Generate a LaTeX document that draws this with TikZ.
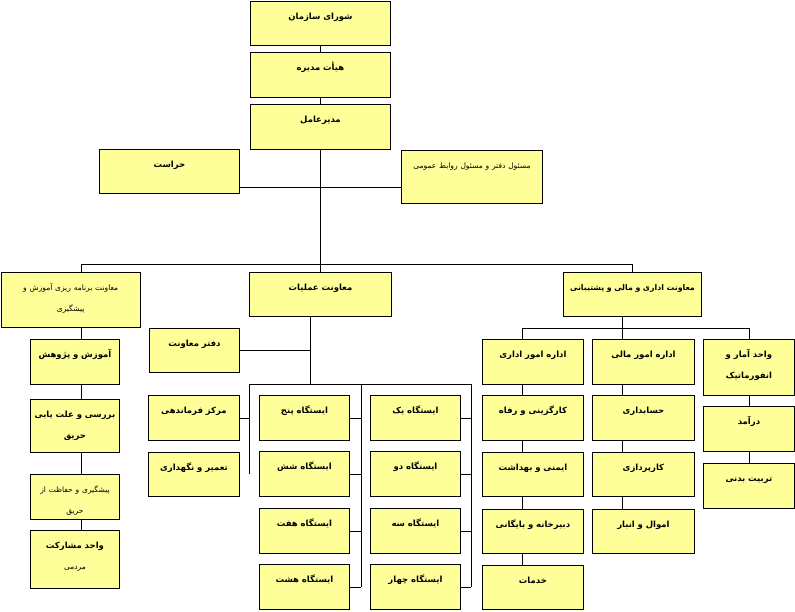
\documentclass[tikz,border=0pt]{standalone}
\usepackage{fontspec}
\usepackage{tikz}
\usetikzlibrary{backgrounds}
\TeXXeTstate=1
\newfontfamily\unitfont[Script=Arabic]{DejaVu Sans}
\newcommand{\fatext}[1]{\beginR#1\endR}
\newcommand{\smalltext}[1]{{\mdseries\fontsize{7.5}{21}\selectfont#1}}
\definecolor{boxfill}{HTML}{FFFF99}

\begin{document}
\begin{tikzpicture}[
                x=1pt, y=-1pt,
                line width=0.9pt,
                unit/.style 2 args={draw, fill=boxfill, inner sep=0pt, anchor=north west,
                    text width=#1, text height=18pt, text depth=#2, align=center,
                    font=\unitfont\bfseries\fontsize{8.5}{21}\selectfont}
            ]
            \useasboundingbox (0,0) rectangle (795,611);

            % top of the chart
            \node[unit={140pt}{26pt}] (council) at (250,1) {\fatext{شورای سازمان}};
            \node[unit={140pt}{27pt}] (board) at (250,52) {\fatext{هیأت مدیره}};
            \node[unit={140pt}{27pt}] (ceo) at (250,104) {\fatext{مدیرعامل}};
            \node[unit={140pt}{26pt}] (security) at (99,149) {\fatext{حراست}};
            \node[unit={141pt}{35pt}] (pr) at (401,150) {\smalltext{\fatext{مسئول دفتر و مسئول روابط عمومی}}};

            % the three deputies
            \node[unit={139.5pt}{37pt}] (planvp) at (0.5,272) {\smalltext{\fatext{معاونت برنامه ریزی آموزش و}}\\\smalltext{\fatext{پیشگیری}}};
            \node[unit={142pt}{26pt}] (opsvp) at (249,272) {\fatext{معاونت عملیات}};
            \node[unit={138pt}{26pt}, font=\unitfont\bfseries\fontsize{7.8}{21}\selectfont] (adminvp) at (563,272) {\fatext{معاونت اداری و مالی و پشتیبانی}};

            % planning branch
            \node[unit={89pt}{27pt}] (training) at (30,339) {\fatext{آموزش و پژوهش}};
            \node[unit={89pt}{35pt}] (investigation) at (30,399) {\fatext{بررسی و علت یابی}\\\fatext{حریق}};
            \node[unit={89pt}{27pt}] (prevention) at (30,474) {\smalltext{\fatext{پیشگیری و حفاظت از}}\\\smalltext{\fatext{حریق}}};
            \node[unit={89pt}{40pt}] (participation) at (30,530) {\fatext{واحد مشارکت}\\\smalltext{\fatext{مردمی}}};

            % operations branch
            \node[unit={90pt}{26pt}] (opsoffice) at (149,328) {\fatext{دفتر معاونت}};
            \node[unit={91pt}{27pt}] (command) at (148,395) {\fatext{مرکز فرماندهی}};
            \node[unit={91pt}{26pt}] (maint) at (148,452) {\fatext{تعمیر و نگهداری}};
            \foreach \num/\y [count=\i] in {یک/395, دو/451, سه/508, چهار/564}
                \node[unit={90pt}{27pt}] (st\i) at (370,\y) {\fatext{ایستگاه \num}};
            \foreach \num/\y [count=\i from 5] in {پنج/395, شش/451, هفت/508, هشت/564}
                \node[unit={90pt}{27pt}] (st\i) at (259,\y) {\fatext{ایستگاه \num}};

            % admin branch
            \node[unit={101pt}{27pt}] (adminaff) at (482,339) {\fatext{اداره امور اداری}};
            \node[unit={101pt}{27pt}] (personnel) at (482,395) {\fatext{کارگزینی و رفاه}};
            \node[unit={101pt}{26pt}] (safety) at (482,452) {\fatext{ایمنی و بهداشت}};
            \node[unit={101pt}{26pt}] (secretariat) at (482,509) {\fatext{دبیرخانه و بایگانی}};
            \node[unit={101pt}{26pt}] (services) at (482,565) {\fatext{خدمات}};
            \node[unit={102pt}{27pt}] (finaff) at (592,339) {\fatext{اداره امور مالی}};
            \node[unit={102pt}{27pt}] (accounting) at (592,395) {\fatext{حسابداری}};
            \node[unit={102pt}{26pt}] (procurement) at (592,452) {\fatext{کارپردازی}};
            \node[unit={102pt}{26pt}] (property) at (592,509) {\fatext{اموال و انبار}};
            \node[unit={91pt}{38pt}] (stats) at (703,339) {\fatext{واحد آمار و}\\\fatext{انفورماتیک}};
            \node[unit={91pt}{27pt}] (revenue) at (703,406) {\fatext{درآمد}};
            \node[unit={91pt}{27pt}] (sports) at (703,463) {\fatext{تربیت بدنی}};

            % bus points of the connectors
            \coordinate (staffbus) at (320,187);
            \coordinate (vpleft) at (81,264);
            \coordinate (vpright) at (632,264);
            \coordinate (opsspine) at (310,350);
            \coordinate (opsbusL) at (249,384);
            \coordinate (opsbusM) at (361,384);
            \coordinate (opsbusR) at (471,384);
            \coordinate (adminL) at (522,328);
            \coordinate (adminM) at (622,328);
            \coordinate (adminR) at (749,328);

            \begin{scope}[on background layer]
                \draw (council.south) -- (board.north);
                \draw (board.south) -- (ceo.north);
                \draw (ceo.south) -- (opsvp.north);
                \draw (security.east |- staffbus) -- (pr.west |- staffbus);
                \draw (vpleft |- planvp.north) -- (vpleft) -- (vpright) -- (vpright |- adminvp.north);

                \draw (vpleft |- planvp.south) -- (vpleft |- participation.north);

                \draw (opsvp.south -| opsspine) -- (opsspine |- opsbusL);
                \draw (opsoffice.east) -- (opsoffice.east -| opsspine);
                \draw (opsbusL |- maint.east) -- (opsbusL) -- (opsbusR) -- (opsbusR |- st4.east);
                \draw (opsbusM) -- (opsbusM |- st8.east);
                \draw (command.east) -- (command.east -| opsbusL);
                \foreach \i in {1,...,4}
                    \draw (st\i.east) -- (st\i.east -| opsbusR);
                \foreach \i in {5,...,8}
                    \draw (st\i.east) -- (st\i.east -| opsbusM);

                \draw (adminvp.south -| adminM) -- (adminM |- property.north);
                \draw (adminL |- services.north) -- (adminL) -- (adminR) -- (adminR |- sports.north);
            \end{scope}
        \end{tikzpicture}
\end{document}
